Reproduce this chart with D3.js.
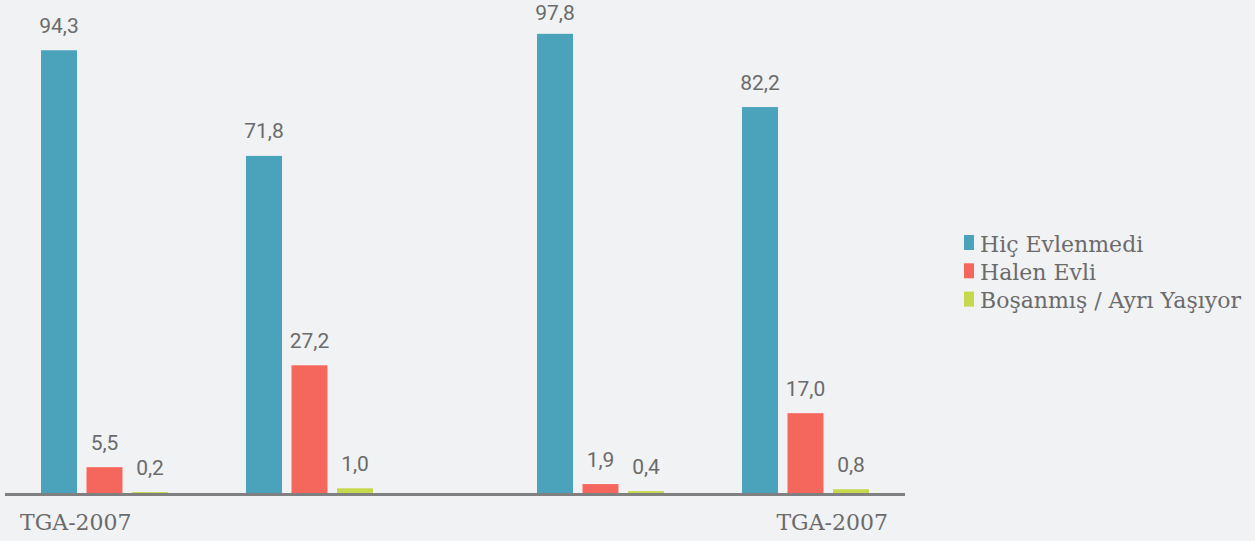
<!DOCTYPE html>
<html>
<head>
<meta charset="utf-8">
<script src="https://cdn.jsdelivr.net/npm/d3@7"></script>
<style>
    html, body { margin: 0; padding: 0; background: #f1f2f4; }
    svg { display: block; }
    .val { font-family: Roboto, "Open Sans", sans-serif; font-size: 21px; fill: #6b6b6b; }
    .slab { font-family: "DejaVu Serif", serif; font-size: 22px; fill: #6b6b6b; }
</style>
</head>
<body>
<div id="chart"></div>
<script>
// series
const seriesKeys = ['Hiç Evlenmedi', 'Halen Evli', 'Boşanmış / Ayrı Yaşıyor'];
const seriesColors = ['#4aa3ba', '#f5665c', '#c6d84b'];

// four groups, two per panel
const groups = ['g1', 'g2', 'g3', 'g4'];
const groupPanel = [0, 0, 1, 1];
const xLabels = ['TGA-2007', '', '', 'TGA-2007'];

const hicEvlenmedi = [94.3, 71.8, 97.8, 82.2];
const halenEvli = [5.5, 27.2, 1.9, 17.0];
const bosanmis = [0.2, 1.0, 0.4, 0.8];

const valueFmt = v => v.toFixed(1).replace('.', ',');

const W = 1255, H = 541;
const baseY = 493;

const data = groups.map((g, i) => ({
    group: g,
    index: i,
    panel: groupPanel[i],
    values: [hicEvlenmedi[i], halenEvli[i], bosanmis[i]]
}));

const svg = d3.select('#chart').append('svg')
    .attr('width', W)
    .attr('height', H);

// scales
const yScale = d3.scaleLinear().domain([0, 100]).range([baseY, 23.5]);
const panelX = d3.scaleBand().domain([0, 1]).range([41, 869]).paddingInner(164 / 496);
const groupX = d3.scaleBand().domain([0, 1]).range([0, panelX.bandwidth()]).paddingInner(78 / 205);
const seriesX = d3.scaleBand().domain(seriesKeys).range([0, groupX.bandwidth()]).paddingInner(9.5 / 45.5);

const groupLeft = d => panelX(d.panel) + groupX(d.index % 2);

const g = svg.selectAll('g.group')
    .data(data)
    .enter().append('g')
    .attr('class', 'group')
    .attr('transform', d => 'translate(' + groupLeft(d) + ',0)');

const bars = g.selectAll('g.bar')
    .data(d => d.values.map((v, k) => ({key: seriesKeys[k], value: v, color: seriesColors[k]})))
    .enter().append('g')
    .attr('class', 'bar');

bars.append('rect')
    .attr('x', d => seriesX(d.key))
    .attr('y', d => yScale(d.value))
    .attr('width', seriesX.bandwidth())
    .attr('height', d => baseY - yScale(d.value))
    .attr('fill', d => d.color);

// labels sit above the bar, but never above the top edge
bars.append('text')
    .attr('class', 'val')
    .attr('x', d => seriesX(d.key) + seriesX.bandwidth() / 2)
    .attr('y', d => Math.max(yScale(d.value) - 17.5, 20))
    .attr('text-anchor', 'middle')
    .text(d => valueFmt(d.value));

// baseline
svg.append('line')
    .attr('x1', 5)
    .attr('x2', 905)
    .attr('y1', baseY + 1.5)
    .attr('y2', baseY + 1.5)
    .attr('stroke', '#808080')
    .attr('stroke-width', 3);

// category labels, pinned to the axis ends
svg.selectAll('text.xlab')
    .data(xLabels.map((l, i) => ({label: l, index: i})).filter(d => d.label !== ''))
    .enter().append('text')
    .attr('class', 'slab xlab')
    .attr('x', d => d.index === 0 ? 20 : 888)
    .attr('y', 530)
    .attr('text-anchor', d => d.index === 0 ? 'start' : 'end')
    .text(d => d.label);

// legend
const legend = svg.append('g').attr('transform', 'translate(964,235)');
const items = legend.selectAll('g')
    .data(seriesKeys)
    .enter().append('g')
    .attr('transform', (d, i) => 'translate(0,' + (i * 28.3) + ')');

items.append('rect')
    .attr('width', 10)
    .attr('height', 15)
    .attr('fill', (d, i) => seriesColors[i]);

items.append('text')
    .attr('class', 'slab')
    .attr('x', 16)
    .attr('y', 16.5)
    .text(d => d);
</script>
</body>
</html>
